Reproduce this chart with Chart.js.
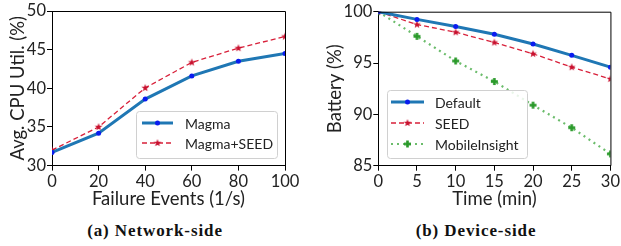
<!DOCTYPE html>
<html><head><meta charset="utf-8">
<script src="https://cdn.jsdelivr.net/npm/chart.js@4.4.1/dist/chart.umd.min.js"></script>
<style>
html,body{margin:0;padding:0;background:#fff;overflow:hidden;width:621px;height:246px;}
canvas{position:absolute;top:0;}
#c1{left:0;} #c2{left:310px;}
.cap{position:absolute;top:221px;font-family:"Liberation Serif",serif;font-weight:bold;font-size:17px;letter-spacing:0.9px;color:#111;transform:translateX(-50%);white-space:nowrap;}
</style></head><body>
<canvas id="c1" width="310" height="210"></canvas>
<canvas id="c2" width="311" height="210"></canvas>
<div class="cap" style="left:155px">(a) Network-side</div>
<div class="cap" style="left:476px">(b) Device-side</div>
<script>
// ---- data ----
const failureEvents = [0, 20, 40, 60, 80, 100];
const magma = [31.7, 34.2, 38.6, 41.6, 43.5, 44.5];
const magmaSeed = [32.0, 35.0, 40.05, 43.35, 45.2, 46.7];
const timeMin = [0, 5, 10, 15, 20, 25, 30];
const batteryDefault = [100, 99.25, 98.55, 97.8, 96.85, 95.75, 94.6];
const batterySeed = [100, 98.75, 98.0, 97.0, 95.9, 94.6, 93.45];
const batteryMobileInsight = [100, 97.6, 95.2, 93.2, 90.9, 88.7, 86.15];

const FONT = 'Lato, "Open Sans", sans-serif';
const TXT = '#222';
const TICK_SIZE = 16.5;
const TITLE_SIZE = 18.5;
const LEG_SIZE = 14;

function pts(xs, ys){ return xs.map((x,i)=>({x:x, y:ys[i]})); }

function makeStar(color, r){
  const c = document.createElement('canvas'); const s = Math.ceil(r*2+2);
  c.width = s; c.height = s; const g = c.getContext('2d');
  g.fillStyle = color; g.beginPath();
  for(let i=0;i<10;i++){
    const a = -Math.PI/2 + i*Math.PI/5; const rr = i%2===0 ? r : r*0.42;
    g.lineTo(s/2 + rr*Math.cos(a), s/2 + rr*Math.sin(a));
  }
  g.closePath(); g.fill(); return c;
}
function makePlus(color, r){
  const c = document.createElement('canvas'); const s = Math.ceil(r*2+2);
  c.width = s; c.height = s; const g = c.getContext('2d');
  g.fillStyle = color; const w = r*0.75;
  g.fillRect(s/2 - w/2, s/2 - r, w, 2*r);
  g.fillRect(s/2 - r, s/2 - w/2, 2*r, w);
  return c;
}
const starRed = makeStar('#c8102e', 4);
const plusGreen = makePlus('#2a9a2a', 3.5);

// plugin: box frame + custom legend
function framePlugin(legend){
  return {
    id:'frame'+Math.random(),
    afterDatasetsDraw(chart){
      const {ctx, chartArea:a} = chart;
      ctx.save();
      ctx.strokeStyle = '#000'; ctx.lineWidth = 1;
      ctx.beginPath();
      ctx.moveTo(a.left, a.top+0.5); ctx.lineTo(a.right+0.5, a.top+0.5); ctx.lineTo(a.right+0.5, a.bottom);
      ctx.stroke();
      const L = legend;
      ctx.fillStyle = 'rgba(255,255,255,0.85)';
      ctx.strokeStyle = '#d0d0d0';
      ctx.lineWidth = 1;
      ctx.beginPath();
      if (ctx.roundRect) ctx.roundRect(L.x+0.5, L.y+0.5, L.w, L.h, 3); else ctx.rect(L.x+0.5, L.y+0.5, L.w, L.h);
      ctx.fill(); ctx.stroke();
      chart.data.datasets.forEach((ds, i) => {
        const y = L.rows[i];
        ctx.save();
        ctx.strokeStyle = ds.borderColor; ctx.lineWidth = ds.borderWidth;
        ctx.setLineDash(ds.borderDash || []);
        ctx.beginPath(); ctx.moveTo(L.lx0, y); ctx.lineTo(L.lx1, y); ctx.stroke();
        ctx.restore();
        const mx = (L.lx0 + L.lx1)/2;
        if (ds.pointStyle instanceof HTMLCanvasElement){
          ctx.drawImage(ds.pointStyle, mx - ds.pointStyle.width/2, y - ds.pointStyle.height/2);
        } else {
          ctx.fillStyle = ds.pointBackgroundColor; ctx.beginPath(); ctx.arc(mx, y, ds.pointRadius, 0, Math.PI*2); ctx.fill();
        }
        ctx.fillStyle = TXT; ctx.font = LEG_SIZE + 'px ' + FONT; ctx.textBaseline = 'middle'; ctx.textAlign = 'left';
        ctx.fillText(ds.label, L.tx, y + 1);
      });
      ctx.restore();
    }
  };
}

function axis(min, max, step, extra){
  return Object.assign({
    type:'linear', min:min, max:max,
    ticks:{stepSize:step, color:TXT, font:{family:FONT, size:TICK_SIZE}, padding:1},
    grid:{drawOnChartArea:false, drawTicks:true, tickLength:5, color:'#000', tickColor:'#000'},
    border:{display:true, color:'#000', width:1}
  }, extra);
}

const common = {
  responsive:false, animation:false, devicePixelRatio:1,
  plugins:{legend:{display:false}, tooltip:{enabled:false}},
  elements:{line:{tension:0}}
};

new Chart(document.getElementById('c1'), {
  type:'line',
  data:{datasets:[
    {label:'Magma', data:pts(failureEvents, magma), borderColor:'#1f77b4', borderWidth:3,
     pointRadius:2.5, pointBackgroundColor:'#0a1cf0', pointBorderWidth:0, pointStyle:'circle'},
    {label:'Magma+SEED', data:pts(failureEvents, magmaSeed), borderColor:'#d8203a', borderWidth:1.3,
     borderDash:[5,3], pointRadius:4, pointStyle:starRed, pointBorderWidth:0, pointBackgroundColor:'#c8102e'}
  ]},
  options:Object.assign({}, common, {
    layout:{padding:{left:7, top:11, right:25, bottom:0}},
    scales:{
      x:axis(0,100,20,{title:{display:true, text:'Failure Events (1/s)', color:TXT, font:{family:FONT, size:TITLE_SIZE}, padding:0},
        afterFit(s){ s.height = 44.4; }}),
      y:axis(30,50,5,{title:{display:true, text:'Avg. CPU Util. (%)', color:TXT, font:{family:FONT, size:TITLE_SIZE}, padding:0},
        afterFit(s){ s.width = 45; }})
    }
  }),
  plugins:[framePlugin({x:136, y:111, w:141, h:47, rows:[123,143], lx0:142, lx1:173, tx:185})]
});

new Chart(document.getElementById('c2'), {
  type:'line',
  data:{datasets:[
    {label:'Default', data:pts(timeMin, batteryDefault), borderColor:'#1f77b4', borderWidth:3,
     pointRadius:2.5, pointBackgroundColor:'#0a1cf0', pointBorderWidth:0, pointStyle:'circle'},
    {label:'SEED', data:pts(timeMin, batterySeed), borderColor:'#d8203a', borderWidth:1.3,
     borderDash:[5,3], pointRadius:4, pointStyle:starRed, pointBorderWidth:0, pointBackgroundColor:'#c8102e'},
    {label:'MobileInsight', data:pts(timeMin, batteryMobileInsight), borderColor:'rgba(44,160,44,0.7)', borderWidth:2.2,
     borderDash:[2,4], pointRadius:3.5, pointStyle:plusGreen, pointBorderWidth:0, pointBackgroundColor:'#2a9a2a'}
  ]},
  options:Object.assign({}, common, {
    layout:{padding:{left:14, top:11.7, right:9.3, bottom:0}},
    scales:{
      x:axis(0,30,5,{title:{display:true, text:'Time (min)', color:TXT, font:{family:FONT, size:TITLE_SIZE}, padding:0},
        afterFit(s){ s.height = 44.3; }}),
      y:axis(85,100,5,{title:{display:true, text:'Battery (%)', color:TXT, font:{family:FONT, size:TITLE_SIZE}, padding:0},
        afterFit(s){ s.width = 54.3; }})
    }
  }),
  plugins:[framePlugin({x:77, y:90, w:140, h:68, rows:[102,123,144], lx0:81, lx1:114, tx:125})]
});
</script>
</body></html>
